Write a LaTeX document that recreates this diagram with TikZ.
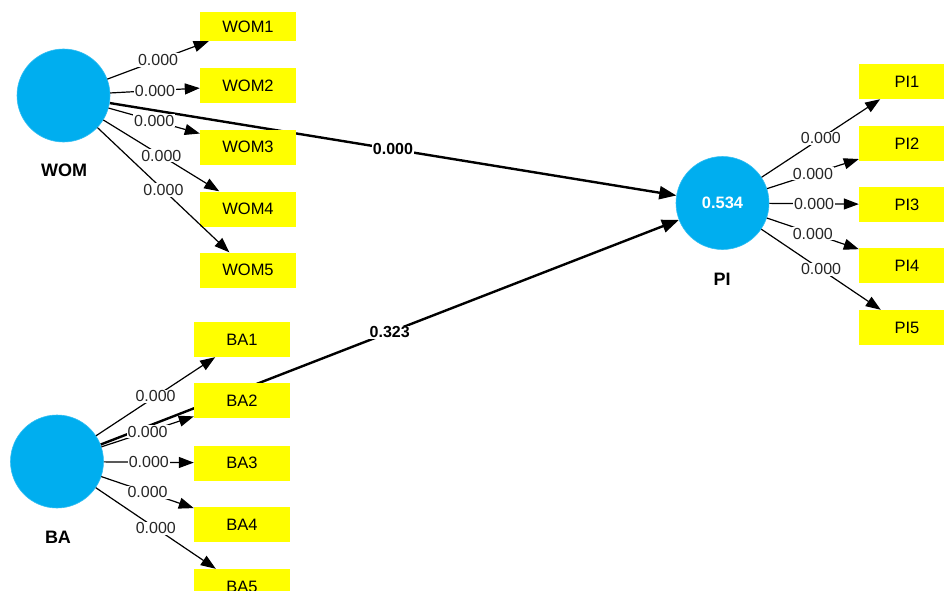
\documentclass[tikz,border=0pt]{standalone}
\usepackage{fontspec}
\setmainfont{Liberation Sans}
\usetikzlibrary{arrows.meta}
\definecolor{lvblue}{RGB}{0,174,239}
\definecolor{indyellow}{RGB}{255,255,0}
\pgfdeclarelayer{bg}
\pgfsetlayers{bg,main}
\begin{document}
\begin{tikzpicture}[x=1pt,y=-1pt,
  lv/.style={circle, fill=lvblue, draw=lvblue!80, line width=0.6pt, minimum size=93pt, inner sep=0pt},
  ind/.style={rectangle, fill=indyellow, minimum width=96pt, minimum height=35pt, inner sep=0pt, font=\fontsize{16.5}{19}\selectfont},
  lvname/.style={font=\bfseries\fontsize{18}{21}\selectfont},
  load/.style={line width=1.2pt, -{Triangle[length=15pt,width=11pt]}},
  struct/.style={line width=2.4pt, -{Triangle[length=17pt,width=13pt]}},
  wt/.style={fill=white, inner sep=1pt, text=black!85, font=\fontsize{16}{19}\selectfont},
  pwt/.style={fill=white, inner sep=1pt, font=\bfseries\fontsize{16}{19}\selectfont}]
\useasboundingbox (0,0) rectangle (944,591);
\clip (0,0) rectangle (944,591);

% latent variables
\node[lv] (WOM) at (63.5,95.5) {};
\node[lv] (BA) at (57,461.5) {};
\node[lv, text=white, font=\bfseries\fontsize{16.5}{19}\selectfont] (PI) at (722.5,203) {0.534};
\node[lvname] (WOMn) at (64,170) {WOM};
\node[lvname] (BAn) at (58,537) {BA};
\node[lvname] (PIn) at (722,279) {PI};

% indicators
\node[ind, minimum height=29pt] (WOM1) at (248,26.5) {WOM1};
\node[ind] (WOM2) at (248,85.5) {WOM2};
\node[ind] (WOM3) at (248,147) {WOM3};
\node[ind] (WOM4) at (248,209) {WOM4};
\node[ind] (WOM5) at (248,270) {WOM5};

\node[ind] (BA1) at (242,339.5) {BA1};
\node[ind] (BA2) at (242,400.5) {BA2};
\node[ind] (BA3) at (242,463) {BA3};
\node[ind] (BA4) at (242,524.5) {BA4};
\node[ind] (BA5) at (242,586.5) {BA5};

\node[ind] (PI1) at (907,81.5) {PI1};
\node[ind] (PI2) at (907,143.5) {PI2};
\node[ind] (PI3) at (907,204.5) {PI3};
\node[ind] (PI4) at (907,265.5) {PI4};
\node[ind] (PI5) at (907,327.5) {PI5};

% structural paths (under the boxes)
\begin{pgfonlayer}{bg}
\draw[struct] (WOM) -- node[pwt] {0.000} (PI);
\draw[struct] (BA) -- node[pwt] {0.323} (PI);
\end{pgfonlayer}

% outer loadings
\foreach \i in {1,...,5} {
  \draw[load] (WOM) -- node[wt] {0.000} (WOM\i);
  \draw[load] (BA) -- node[wt] {0.000} (BA\i);
  \draw[load] (PI) -- node[wt] {0.000} (PI\i);
}
\end{tikzpicture}
\end{document}
